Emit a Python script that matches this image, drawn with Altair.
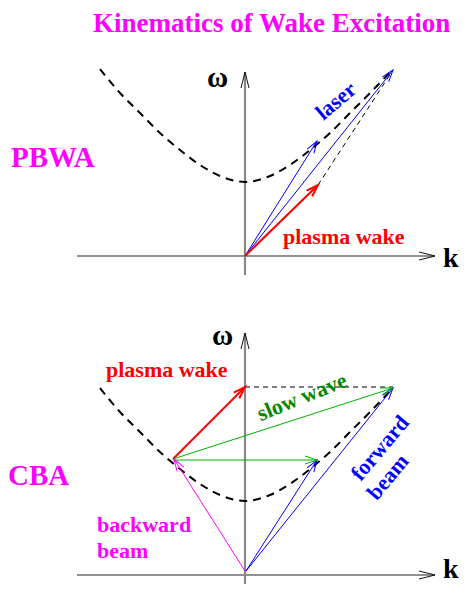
import math
import altair as alt
import pandas as pd

# ---- data (local panel units: k to the right, omega upward, origin at axis crossing) ----
panel_shift = {"top": 319, "bottom": 0}

# dispersion curve (dashed), same in both panels
curve_k = [-145, -125, -105, -85, -65, -45, -25, 0, 25, 45, 65, 85, 105, 125, 148]
curve_w = [187, 163, 143, 123, 106, 91, 80, 74, 80, 91, 106, 123, 143, 163, 187]

# coordinate axes
axis_panel = ["top", "top", "bottom", "bottom"]
axis_k0 = [-168, 0, -168, 0]
axis_w0 = [0, -19, 0, -17]
axis_k1 = [190, 0, 190, 0]
axis_w1 = [0, 184, 0, 242]
axis_color = ["#222222", "#888888", "#222222", "#888888"]
axis_width = [1.2, 2.2, 1.2, 2.2]

# wave vectors
vec_panel = ["top", "top", "top", "bottom", "bottom", "bottom", "bottom", "bottom", "bottom"]
vec_k0 = [0, 0, 0, 0, 1, 1, -72, -72, -72]
vec_w0 = [0, 0, 0, 4, 4, 4, 116, 116, 115]
vec_k1 = [72, 148, 73, -71, 72, 148, 0, 148, 72]
vec_w1 = [115, 186, 71, 116, 115, 187, 188, 187, 115]
vec_color = ["#0000ff", "#0000ff", "#ff0000", "#ff00ff", "#0000ff", "#0000ff",
             "#ff0000", "#00b000", "#00b000"]
vec_width = [1, 1, 2, 1, 1, 1, 2, 1, 1]

# thin dashed guides
guide_panel = ["top", "bottom"]
guide_k0 = [73, 0]
guide_w0 = [71, 188]
guide_k1 = [148, 148]
guide_w1 = [186, 188]

# left-aligned labels (baseline positions)
lab_text = ["Kinematics of Wake Excitation", "PBWA", "plasma wake", "ω", "k",
            "CBA", "plasma wake", "ω", "k", "backward", "beam"]
lab_panel = ["top", "top", "top", "top", "top",
             "bottom", "bottom", "bottom", "bottom", "bottom", "bottom"]
lab_k = [-152, -234, 38, -38, 198, -237, -139, -33, 198, -148, -148]
lab_w = [224, 89, 12, 169, -11, 90, 198, 230, -3, 43, 17]
lab_color = ["#ff00ff", "#ff00ff", "#ff0000", "#000000", "#000000",
             "#ff00ff", "#ff0000", "#000000", "#000000", "#ff00ff", "#ff00ff"]
lab_size = [27, 29, 22, 29, 28, 29, 22, 29, 28, 22, 22]

# rotated labels (centre positions)
rot_text = ["laser", "slow wave", "forward", "beam"]
rot_panel = ["top", "bottom", "bottom", "bottom"]
rot_k = [91, 57, 135, 143]
rot_w = [155, 178, 127, 98]
rot_color = ["#0000ff", "#008a00", "#0000ff", "#0000ff"]
rot_angle = [320, 338, 310, 310]

# ---- tables ----
def gy(panel, w):
    return w + panel_shift[panel]

curve = pd.DataFrame(
    [{"panel": p, "x": k, "y": gy(p, w), "o": i}
     for p in panel_shift for i, (k, w) in enumerate(zip(curve_k, curve_w))]
)

axes = pd.DataFrame({
    "x": axis_k0, "y": [gy(p, w) for p, w in zip(axis_panel, axis_w0)],
    "x2": axis_k1, "y2": [gy(p, w) for p, w in zip(axis_panel, axis_w1)],
    "color": axis_color, "sw": axis_width,
})
vecs = pd.DataFrame({
    "x": vec_k0, "y": [gy(p, w) for p, w in zip(vec_panel, vec_w0)],
    "x2": vec_k1, "y2": [gy(p, w) for p, w in zip(vec_panel, vec_w1)],
    "color": vec_color, "sw": vec_width,
})
guides = pd.DataFrame({
    "x": guide_k0, "y": [gy(p, w) for p, w in zip(guide_panel, guide_w0)],
    "x2": guide_k1, "y2": [gy(p, w) for p, w in zip(guide_panel, guide_w1)],
})


def heads(df):
    out = df.copy()
    out["ang"] = [
        (math.degrees(math.atan2(x2 - x, y2 - y)) + 360) % 360
        for x, y, x2, y2 in zip(df.x, df.y, df.x2, df.y2)
    ]
    return out


axis_heads = heads(axes)
vec_heads = heads(vecs)

labels = pd.DataFrame({
    "text": lab_text, "x": lab_k,
    "y": [gy(p, w) for p, w in zip(lab_panel, lab_w)],
    "color": lab_color, "size": lab_size,
})
rlabels = pd.DataFrame({
    "text": rot_text, "x": rot_k,
    "y": [gy(p, w) for p, w in zip(rot_panel, rot_w)],
    "color": rot_color, "ang": rot_angle,
})

HEAD = "M-0.33,1L0,0L0.33,1"
AXHEAD = "M-0.25,1L0,0L0.25,1"
FONT = "Liberation Serif"


def build(xdom, ydom, w, h, pad):
    X = alt.X("x:Q", scale=alt.Scale(domain=xdom, nice=False, zero=False), axis=None)
    Y = alt.Y("y:Q", scale=alt.Scale(domain=ydom, nice=False, zero=False), axis=None)
    X2 = alt.X("x2:Q", scale=alt.Scale(domain=xdom, nice=False, zero=False), axis=None)
    Y2 = alt.Y("y2:Q", scale=alt.Scale(domain=ydom, nice=False, zero=False), axis=None)
    col = alt.Color("color:N", scale=None)
    sw = alt.StrokeWidth("sw:Q", scale=None)

    axis_lines = alt.Chart(axes).mark_rule().encode(x=X, y=Y, x2="x2:Q", y2="y2:Q", color=col, strokeWidth=sw)
    axis_tips = alt.Chart(axis_heads).mark_point(shape=AXHEAD, filled=False, opacity=1, size=1024,
                                                  strokeWidth=1, color="#111111").encode(
        x=X2, y=Y2, angle=alt.Angle("ang:Q", scale=None))
    curve_line = alt.Chart(curve).mark_line(strokeDash=[8, 6], strokeWidth=2, color="black",
                                            interpolate="monotone").encode(
        x=X, y=Y, detail="panel:N", order="o:Q")
    guide_lines = alt.Chart(guides).mark_rule(strokeDash=[5, 4], strokeWidth=1, color="black").encode(
        x=X, y=Y, x2="x2:Q", y2="y2:Q")
    vec_lines = alt.Chart(vecs).mark_rule().encode(x=X, y=Y, x2="x2:Q", y2="y2:Q", color=col, strokeWidth=sw)
    vec_tips = alt.Chart(vec_heads).mark_point(shape=HEAD, filled=False, opacity=1, size=576).encode(
        x=X2, y=Y2, angle=alt.Angle("ang:Q", scale=None), color=col, strokeWidth=sw)
    texts = alt.Chart(labels).mark_text(align="left", baseline="alphabetic", font=FONT,
                                        fontWeight="bold").encode(
        x=X, y=Y, text="text:N", color=col, size=alt.Size("size:Q", scale=None))
    rtexts = alt.Chart(rlabels).mark_text(align="center", baseline="middle", font=FONT,
                                          fontWeight="bold", fontSize=22).encode(
        x=X, y=Y, text="text:N", color=col, angle=alt.Angle("ang:Q", scale=None))

    return alt.layer(axis_lines, axis_tips, curve_line, guide_lines, vec_lines, vec_tips,
                     texts, rtexts).properties(
        width=w, height=h, padding=pad, autosize=alt.AutoSizeParams(type="none"),
    ).configure_view(stroke=None)


try:
    # content coordinates equal page pixels; svg kept small enough that the page never scrolls
    chart = build([-245, 224], [-23, 575], 469, 598,
                  {"left": -8, "top": -8, "right": -8, "bottom": -14})
    chart.to_dict()
except Exception:
    chart = build([-237, 216], [-1, 575], 453, 576,
                  {"left": 0, "top": 0, "right": 0, "bottom": 0})

chart.save("out.html", embed_options={"renderer": "svg", "actions": False})
